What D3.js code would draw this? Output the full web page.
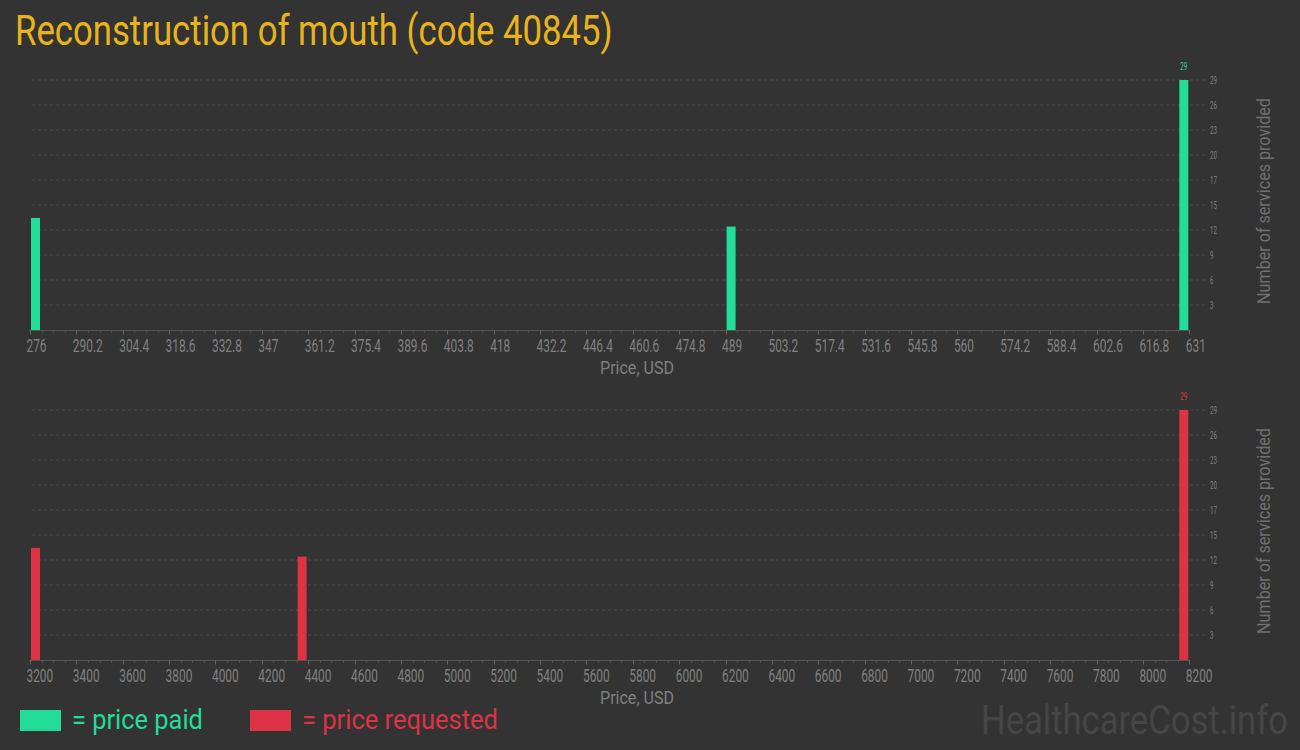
<!DOCTYPE html>
<html><head><meta charset="utf-8">
<script src="https://cdn.jsdelivr.net/npm/d3@7"></script>
<style>html,body{margin:0;padding:0;background:#333333;} svg{display:block}</style>
</head><body>
<script>
// ---------- data ----------
const titleText = "Reconstruction of mouth (code 40845)";
const paidPrices = [276, 489, 631];
const paidCounts = [13, 12, 29];
const requestedPrices = [3200, 4350, 8200];
const requestedCounts = [13, 12, 29];
const paidTicks = [276, 290.2, 304.4, 318.6, 332.8, 347, 361.2, 375.4, 389.6, 403.8, 418, 432.2, 446.4, 460.6, 474.8, 489, 503.2, 517.4, 531.6, 545.8, 560, 574.2, 588.4, 602.6, 616.8, 631];
const requestedTicks = [3200, 3400, 3600, 3800, 4000, 4200, 4400, 4600, 4800, 5000, 5200, 5400, 5600, 5800, 6000, 6200, 6400, 6600, 6800, 7000, 7200, 7400, 7600, 7800, 8000, 8200];
const yTickValues = [2.9, 5.8, 8.7, 11.6, 14.5, 17.4, 20.3, 23.2, 26.1, 29];
const yTickLabels = ["3", "6", "9", "12", "15", "17", "20", "23", "26", "29"];
const xAxisTitle = "Price, USD";
const yAxisTitle = "Number of services provided";
const legendLabels = ["= price paid", "= price requested"];
const watermark = "HealthcareCost.info";

// ---------- style ----------
const W = 1300, H = 750;
const BG = "#333333", GREEN = "#22DC9A", RED = "#DD3344", GOLD = "#E8B31C";
const TICK = "#808080", GRID = "#4a4a4a", AXIS = "#555555";
const FONT = "Roboto, 'Noto Sans', sans-serif";

const svg = d3.select("body").append("svg").attr("width", W).attr("height", H);
svg.append("rect").attr("width", W).attr("height", H).attr("fill", BG);

// text helper with horizontal condensing
function ctext(parent, x, y, str, size, color, opts = {}) {
  const g = parent.append("g");
  const t = g.append("text").text(str)
    .attr("font-family", FONT).attr("font-size", size).attr("fill", color)
    .attr("text-anchor", opts.anchor || "start");
  if (opts.baseline) t.attr("dominant-baseline", opts.baseline);
  let s = opts.scale || 1;
  if (opts.width) s = opts.width / t.node().getComputedTextLength();
  g.attr("transform", `translate(${x},${y})` + (opts.rotate ? ` rotate(${opts.rotate})` : "") + ` scale(${s},1)`);
  return g;
}

// title
ctext(svg, 15, 45, titleText, 42, GOLD, {width: 598});

const X0 = 30, X1 = 1189.3;

function panel(top, prices, counts, ticks, domain, color) {
  const y0 = top + 250;
  const x = d3.scaleLinear().domain(domain).range([X0, X1]);
  const y = d3.scaleLinear().domain([0, 29]).range([y0, top]);
  const g = svg.append("g");

  // grid lines
  g.selectAll("line.grid").data(yTickValues).enter().append("line")
    .attr("x1", 32).attr("x2", 1205)
    .attr("y1", d => y(d)).attr("y2", d => y(d))
    .attr("stroke", GRID).attr("stroke-width", 1).attr("stroke-dasharray", "3,3");

  // y tick labels
  yTickValues.forEach((v, i) => {
    ctext(g, 1210, y(v) + 3.5, yTickLabels[i], 10, TICK, {scale: 0.62});
  });

  // x axis line
  g.append("line").attr("x1", X0 - 1).attr("x2", X1 + 1).attr("y1", y0 + 0.5).attr("y2", y0 + 0.5)
    .attr("stroke", AXIS).attr("stroke-width", 1.2);

  // minor ticks
  const minor = [];
  for (let i = 0; i < ticks.length - 1; i++) {
    for (let k = 1; k < 4; k++) minor.push(ticks[i] + (ticks[i + 1] - ticks[i]) * k / 4);
  }
  g.selectAll("line.minor").data(minor).enter().append("line")
    .attr("x1", d => Math.round(x(d)) + 0.5).attr("x2", d => Math.round(x(d)) + 0.5)
    .attr("y1", y0).attr("y2", y0 + 2.5).attr("stroke", AXIS);
  g.selectAll("line.major").data(ticks).enter().append("line")
    .attr("x1", d => Math.round(x(d)) + 0.5).attr("x2", d => Math.round(x(d)) + 0.5)
    .attr("y1", y0).attr("y2", y0 + 4.5).attr("stroke", "#666");

  // x tick labels
  ticks.forEach(t => {
    ctext(g, x(t) - 3.5, y0 + 22, String(+t.toFixed(1)), 18, TICK, {scale: 0.66});
  });

  // bars
  const bw = 9;
  const barX = v => Math.min(x(v) + 1, x.range()[1] - 1 - bw);
  g.selectAll("rect.bar").data(prices).enter().append("rect")
    .attr("x", d => barX(d)).attr("width", bw)
    .attr("y", (d, i) => y(counts[i])).attr("height", (d, i) => y0 - y(counts[i]))
    .attr("fill", color);

  // value label on tallest bar
  const mi = d3.maxIndex(counts);
  ctext(g, barX(prices[mi]) + bw / 2, y(counts[mi]) - 10, String(counts[mi]), 10, color, {anchor: "middle", scale: 0.62});

  // axis titles
  ctext(g, 637, y0 + 44, xAxisTitle, 18, TICK, {anchor: "middle", width: 74});
  ctext(g, 1270, top + 121, yAxisTitle, 18, "#707070", {anchor: "middle", rotate: -90, width: 206});
}

panel(80, paidPrices, paidCounts, paidTicks, [276, 631], GREEN);
panel(410, requestedPrices, requestedCounts, requestedTicks, [3200, 8200], RED);

// legend
svg.append("rect").attr("x", 20).attr("y", 710).attr("width", 41).attr("height", 21).attr("fill", GREEN);
ctext(svg, 72, 729, legendLabels[0], 28, GREEN, {width: 131});
svg.append("rect").attr("x", 250).attr("y", 710).attr("width", 41).attr("height", 21).attr("fill", RED);
ctext(svg, 302, 729, legendLabels[1], 28, RED, {width: 196});

// watermark
ctext(svg, 981, 734, watermark, 40, "#464646", {width: 307});
</script>
</body></html>
